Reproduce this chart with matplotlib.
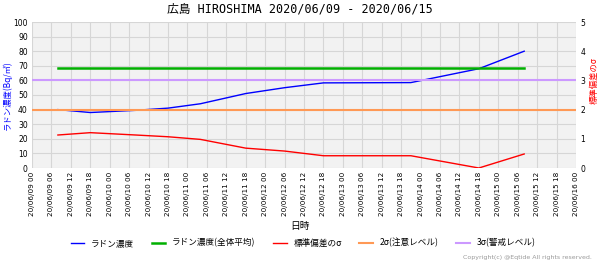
import matplotlib
matplotlib.use("Agg")
import matplotlib.pyplot as plt
import pandas as pd

plt.rcParams['font.family'] = ['Noto Sans CJK JP', 'DejaVu Sans']

# ---- data ----
times = ["2020-06-09 08:00", "2020-06-09 18:00", "2020-06-10 08:00", "2020-06-10 18:00",
         "2020-06-11 04:00", "2020-06-11 18:00", "2020-06-12 06:00", "2020-06-12 18:00",
         "2020-06-13 21:00", "2020-06-14 18:00", "2020-06-15 08:00"]
radon = [40, 38, 39.5, 41, 44, 51, 55, 58.3, 58.5, 68, 80]
sigma = [1.13, 1.21, 1.13, 1.07, 0.98, 0.68, 0.58, 0.42, 0.42, 0.0, 0.48]
radon_mean = 68.5
level_2sigma = 40
level_3sigma = 60

tick_times = pd.date_range("2020-06-09 00:00", "2020-06-16 00:00", freq="6h")
tick_labels = ["20/06/09 00", "20/06/09 06", "20/06/09 12", "20/06/09 18",
               "20/06/10 00", "20/06/10 06", "20/06/10 12", "20/06/10 18",
               "20/06/11 00", "20/06/11 06", "20/06/11 12", "20/06/11 18",
               "20/06/12 00", "20/06/12 06", "20/06/12 12", "20/06/12 18",
               "20/06/13 00", "20/06/13 06", "20/06/13 12", "20/06/13 18",
               "20/06/14 00", "20/06/14 06", "20/06/14 12", "20/06/14 18",
               "20/06/15 00", "20/06/15 06", "20/06/15 12", "20/06/15 18",
               "20/06/16 00"]
left_ticks = list(range(0, 101, 10))
right_ticks = [0, 1, 2, 3, 4, 5]

t = pd.to_datetime(times)

fig = plt.figure(figsize=(6.0, 2.63), dpi=100)
ax = fig.add_axes([32/600, 1-168/263, (576-32)/600, (168-22)/263])
ax.set_facecolor('#f2f2f2')
for s in ax.spines.values():
    s.set_visible(False)

ax.set_xlim(tick_times[0], tick_times[-1])
ax.set_ylim(0, 100)
ax.set_xticks(tick_times)
ax.set_xticklabels(tick_labels, rotation=90, fontsize=5.2, family=['DejaVu Sans'])
ax.set_yticks(left_ticks)
ax.set_yticklabels([str(v) for v in left_ticks], fontsize=5.5, family=['DejaVu Sans'])
ax.tick_params(length=0, pad=3)
ax.grid(True, color='#d6d6d6', linewidth=0.8)
ax.set_axisbelow(True)

ax2 = ax.twinx()
ax2.set_ylim(0, 5)
ax2.set_yticks(right_ticks)
ax2.set_yticklabels([str(v) for v in right_ticks], fontsize=5.5, family=['DejaVu Sans'])
ax2.tick_params(length=0, pad=3)
for s in ax2.spines.values():
    s.set_visible(False)

l1, = ax.plot(t, radon, color='#0000ff', lw=1.0, label='ラドン濃度')
l2, = ax.plot([t[0], t[-1]], [radon_mean, radon_mean], color='#00b000', lw=1.8, label='ラドン濃度(全体平均)')
l3, = ax2.plot(t, sigma, color='#ff0000', lw=1.0, label='標準偏差のσ')
l4 = ax.axhline(level_2sigma, color='#ff9955', lw=1.5, label='2σ(注意レベル)')
l5 = ax.axhline(level_3sigma, color='#cc99ff', lw=1.5, label='3σ(警戒レベル)')

ax.set_ylabel('ラドン濃度(Bq/㎥)', color='#0000ff', fontsize=6)
ax.yaxis.set_label_coords((12 - 32) / 544, 0.5)
ax2.set_ylabel('標準偏差のσ', color='#ff0000', fontsize=6, rotation=90)
ax2.yaxis.set_label_coords((590 - 32) / 544, 0.6)
fig.text(300/600, 1-226/263, '日時', ha='center', va='center', fontsize=7)

fig.suptitle('広島 HIROSHIMA 2020/06/09 - 2020/06/15', x=0.5, y=1-9/263, va='center',
             fontsize=8.5, family=['DejaVu Sans Mono', 'Noto Sans CJK JP'])

fig.legend(handles=[l1, l2, l3, l4, l5], loc='center', bbox_to_anchor=(0.505, 1-243/263),
           ncol=5, frameon=False, fontsize=6.2, handlelength=1.6, columnspacing=2.0,
           handletextpad=0.8)

fig.text(592/600, 1-257/263, 'Copyright(c) @Eqtide All rights reserved.', ha='right',
         va='center', fontsize=4.5, color='#999999', family=['DejaVu Sans'])

fig.savefig('out.png', dpi=100)
